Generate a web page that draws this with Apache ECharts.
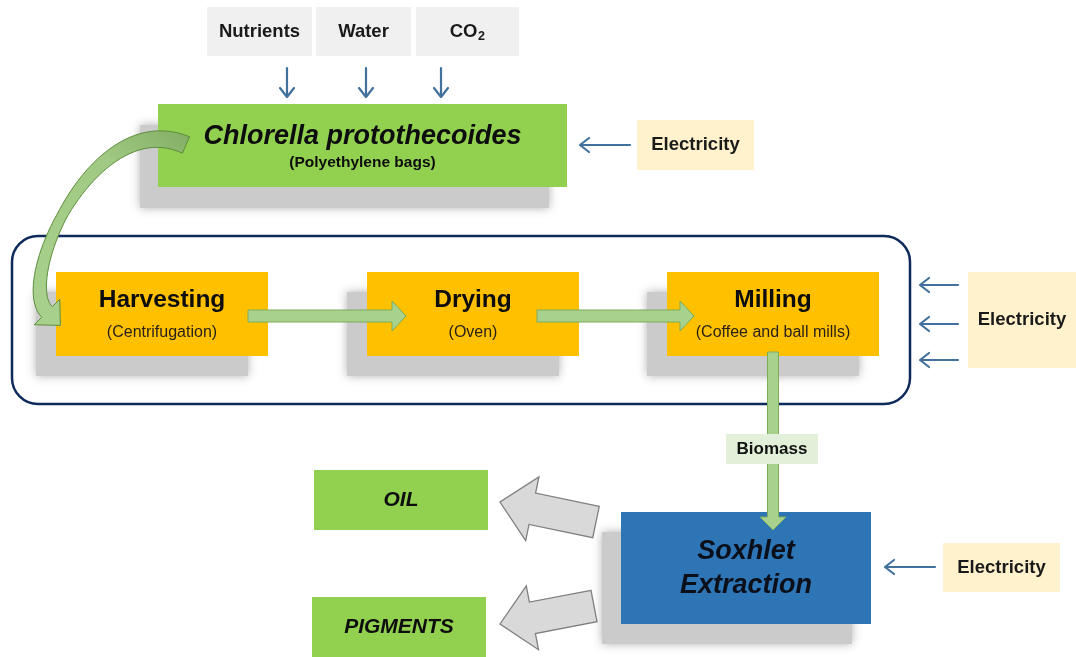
<!DOCTYPE html>
<html><head><meta charset="utf-8">
<style>html,body{margin:0;padding:0;background:#fff}#c{width:1076px;height:657px}</style>
<script src="https://cdn.jsdelivr.net/npm/echarts@6/dist/echarts.min.js"></script>
</head><body><div id="c"></div>
<script>
// ---- text content ----
const inputLabels = ['Nutrients', 'Water', 'CO'];
const inputSubscripts = ['', '', '2'];
const sourceTitle = ['Chlorella protothecoides', '(Polyethylene bags)'];
const processLabels = ['Harvesting', 'Drying', 'Milling'];
const processNotes = ['(Centrifugation)', '(Oven)', '(Coffee and ball mills)'];
const energyLabel = 'Electricity';
const streamLabel = 'Biomass';
const extractionLabel = ['Soxhlet', 'Extraction'];
const productLabels = ['OIL', 'PIGMENTS'];

// ---- layout in diagram units (hidden axes 0..1076 x 0..657) ----
const inputBoxes = [[207,7,312,56],[316,7,411,56],[416,7,519,56]];
const sourceBox = [158,104,567,187];
const processBoxes = [[56,272,268,356],[367,272,579,356],[667,272,879,356]];
const energyBoxes = [[637,120,754,170],[968,272,1076,368],[943,543,1060,592]];
const streamBox = [726,434,818,464];
const extractionBox = [621,512,871,624];
const productBoxes = [[314,470,488,530],[312,597,486,657]];
const containerBox = [12,236,910,404];
const inputArrows = [[287,68,287,97],[366,68,366,97],[441,68,441,97]];
const energyArrows = [[630,145,580,145],[958,285,920,285],[958,324,920,324],[958,360,920,360],[935,567,885,567]];
const flowArrows = [[248,316,406,316],[537,316,694,316],[773,352,773,530]];
const productArrows = [[596,522,500,502],[594,606,500,624]];
const curvedPath = [[186,145],[95,105],[15,280],[47,312]];

const FONT = 'Liberation Sans, Arial, Helvetica, sans-serif';

function rs(api, b) {
  const p0 = api.coord([b[0], b[1]]), p1 = api.coord([b[2], b[3]]);
  return {x: p0[0], y: p0[1], width: p1[0] - p0[0], height: p1[1] - p0[1]};
}
function txt(api, x, y, t, size, opt) {
  opt = opt || {};
  const p = api.coord([x, y]);
  return {type: 'text', z2: 10, style: {x: p[0], y: p[1], text: t, fill: opt.fill || '#111',
    fontSize: size, fontWeight: opt.weight || 'normal', fontStyle: opt.style || 'normal',
    fontFamily: FONT, align: opt.align || 'center', verticalAlign: 'middle'}};
}
function blockArrow(api, a, bw, hw, hl) {
  const S = api.coord([a[0], a[1]]), E = api.coord([a[2], a[3]]);
  const dx = E[0] - S[0], dy = E[1] - S[1], L = Math.hypot(dx, dy);
  const d = [dx / L, dy / L], n = [-d[1], d[0]];
  const B = [E[0] - d[0] * hl, E[1] - d[1] * hl];
  const off = (P, k) => [P[0] + n[0] * k, P[1] + n[1] * k];
  return [off(S, bw/2), off(B, bw/2), off(B, hw/2), E, off(B, -hw/2), off(B, -bw/2), off(S, -bw/2)];
}

const elements = [];
// container
elements.push(api => ({type: 'rect', z2: 1, shape: Object.assign(rs(api, containerBox), {r: 26}),
  style: {fill: 'none', stroke: '#0e2a5c', lineWidth: 2.5}}));

function boxEl(box, fill, shadow, texts) {
  return api => {
    const ch = [];
    if (shadow) {
      ch.push({type: 'rect', z2: 2, shape: rs(api, [box[0]+shadow[0], box[1]+shadow[1], box[2]+shadow[0], box[3]+shadow[1]]),
        style: {fill: '#cbcbcb', shadowBlur: 9, shadowColor: 'rgba(170,170,170,0.9)'}});
    }
    ch.push({type: 'rect', z2: 3, shape: rs(api, box), style: {fill: fill}});
    const cx = (box[0] + box[2]) / 2, cy = (box[1] + box[3]) / 2;
    texts.forEach(t => ch.push(txt(api, cx + (t.dx || 0), cy + t.dy, t.t, t.size, t)));
    return {type: 'group', children: ch};
  };
}

// inputs
inputBoxes.forEach((b, i) => {
  const tx = inputSubscripts[i] ? [{t: inputLabels[i], dx: -4, dy: 0, size: 18.5, weight: 'bold', fill: '#1a1a1a'}] :
    [{t: inputLabels[i], dy: 0, size: 18.5, weight: 'bold', fill: '#1a1a1a'}];
  elements.push(boxEl(b, '#f0f0f0', null, tx));
  if (inputSubscripts[i]) {
    elements.push(api => txt(api, (b[0]+b[2])/2 + 10.5, (b[1]+b[3])/2 + 5, inputSubscripts[i], 12.5, {weight: 'bold', align: 'left', fill: '#1a1a1a'}));
  }
});
// source
elements.push(boxEl(sourceBox, '#92d050', [-18, 21], [
  {t: sourceTitle[0], dy: -8.5, size: 27, weight: 'bold', style: 'italic', fill: '#0d0d0d'},
  {t: sourceTitle[1], dy: 17.5, size: 15.5, weight: 'bold', fill: '#0d0d0d'}]));
// processes
processBoxes.forEach((b, i) => elements.push(boxEl(b, '#ffc000', [-20, 20], [
  {t: processLabels[i], dy: -14, size: 24.5, weight: 'bold', fill: '#0d0d0d'},
  {t: processNotes[i], dy: 19, size: 16, fill: '#2a2218'}])));
// energy
energyBoxes.forEach(b => elements.push(boxEl(b, '#fff2cc', null, [{t: energyLabel, dy: 0, size: 18.5, weight: 'bold', fill: '#1a1a1a'}])));
// extraction
elements.push(boxEl(extractionBox, '#2e75b6', [-19, 20], [
  {t: extractionLabel[0], dy: -16, size: 27, weight: 'bold', style: 'italic', fill: '#0b0f1a'},
  {t: extractionLabel[1], dy: 18, size: 27, weight: 'bold', style: 'italic', fill: '#0b0f1a'}]));
// products
productBoxes.forEach((b, i) => elements.push(boxEl(b, '#92d050', null, [{t: productLabels[i], dy: 0, size: 21, weight: 'bold', style: 'italic', fill: '#0d0d0d'}])));

// thin arrows
inputArrows.concat(energyArrows).forEach(a => elements.push(api => {
  const S = api.coord([a[0], a[1]]), E = api.coord([a[2], a[3]]);
  const dx = E[0]-S[0], dy = E[1]-S[1], L = Math.hypot(dx, dy), d = [dx/L, dy/L], n = [-d[1], d[0]];
  const h1 = [E[0]-d[0]*9+n[0]*7, E[1]-d[1]*9+n[1]*7], h2 = [E[0]-d[0]*9-n[0]*7, E[1]-d[1]*9-n[1]*7];
  const st = {stroke: '#41719c', lineWidth: 2.2, fill: null, lineCap: 'round', lineJoin: 'round'};
  return {type: 'group', children: [
    {type: 'line', z2: 5, shape: {x1: S[0], y1: S[1], x2: E[0] - d[0], y2: E[1] - d[1]}, style: st},
    {type: 'polyline', z2: 5, shape: {points: [h1, E, h2]}, style: st}]};
}));

// green flow arrows
flowArrows.forEach((a, i) => elements.push(api => ({type: 'polygon', z2: 6,
  shape: {points: i < 2 ? blockArrow(api, a, 12, 30, 14) : blockArrow(api, a, 11, 26, 13)},
  style: {fill: '#a9d18e', stroke: '#7cad5a', lineWidth: 1}})));

// gray product arrows
productArrows.forEach(a => elements.push(api => ({type: 'polygon', z2: 6,
  shape: {points: blockArrow(api, a, 32, 65, 33)},
  style: {fill: '#d9d9d9', stroke: '#7f7f7f', lineWidth: 1.3}})));

// curved arrow
elements.push(api => {
  const P = curvedPath.map(p => api.coord(p));
  const N = 48, left = [], right = [];
  const bez = t => {
    const u = 1 - t;
    return [u*u*u*P[0][0] + 3*u*u*t*P[1][0] + 3*u*t*t*P[2][0] + t*t*t*P[3][0],
            u*u*u*P[0][1] + 3*u*u*t*P[1][1] + 3*u*t*t*P[2][1] + t*t*t*P[3][1]];
  };
  const der = t => {
    const u = 1 - t;
    return [3*u*u*(P[1][0]-P[0][0]) + 6*u*t*(P[2][0]-P[1][0]) + 3*t*t*(P[3][0]-P[2][0]),
            3*u*u*(P[1][1]-P[0][1]) + 6*u*t*(P[2][1]-P[1][1]) + 3*t*t*(P[3][1]-P[2][1])];
  };
  const width = t => t < 0.55 ? 18 - (18 - 10) * (t / 0.55) : 10 + (15 - 10) * ((t - 0.55) / 0.45);
  let dEnd, nEnd;
  for (let k = 0; k <= N; k++) {
    const t = k / N, p = bez(t), dv = der(t), L = Math.hypot(dv[0], dv[1]);
    const d = [dv[0]/L, dv[1]/L], n = [-d[1], d[0]], w = width(t) / 2;
    left.push([p[0] + n[0]*w, p[1] + n[1]*w]);
    right.push([p[0] - n[0]*w, p[1] - n[1]*w]);
    if (k === N) { dEnd = d; nEnd = n; }
  }
  const E = P[3], hw = 18, hl = 19;
  const head = [[E[0] + nEnd[0]*hw, E[1] + nEnd[1]*hw], [E[0] + dEnd[0]*hl, E[1] + dEnd[1]*hl], [E[0] - nEnd[0]*hw, E[1] - nEnd[1]*hw]];
  const pts = left.concat(head, right.reverse());
  return {type: 'polygon', z2: 7, shape: {points: pts},
    style: {fill: {type: 'linear', x: 1, y: 0, x2: 0, y2: 1, colorStops: [
      {offset: 0, color: '#83ad63'}, {offset: 0.3, color: '#a0c983'}, {offset: 1, color: '#a9d18e'}]},
      stroke: '#5d8e3c', lineWidth: 1}};
});

// biomass label (over the vertical arrow)
elements.push(api => {
  const b = streamBox;
  return {type: 'group', children: [
    {type: 'rect', z2: 8, shape: rs(api, b), style: {fill: '#e2f0d9'}},
    Object.assign(txt(api, (b[0]+b[2])/2, (b[1]+b[3])/2, streamLabel, 17, {weight: 'bold', fill: '#111'}), {z2: 9})]};
});

const chart = echarts.init(document.getElementById('c'), null, {renderer: 'canvas'});
chart.setOption({
  animation: false,
  backgroundColor: '#ffffff',
  grid: {left: 0, right: 0, top: 0, bottom: 0},
  xAxis: {type: 'value', min: 0, max: 1076, show: false},
  yAxis: {type: 'value', min: 0, max: 657, inverse: true, show: false},
  series: [{
    type: 'custom', coordinateSystem: 'cartesian2d', clip: false, silent: true,
    data: elements.map((e, i) => [0, 0, i]),
    renderItem: (params, api) => elements[params.dataIndex](api)
  }]
});
</script></body></html>
